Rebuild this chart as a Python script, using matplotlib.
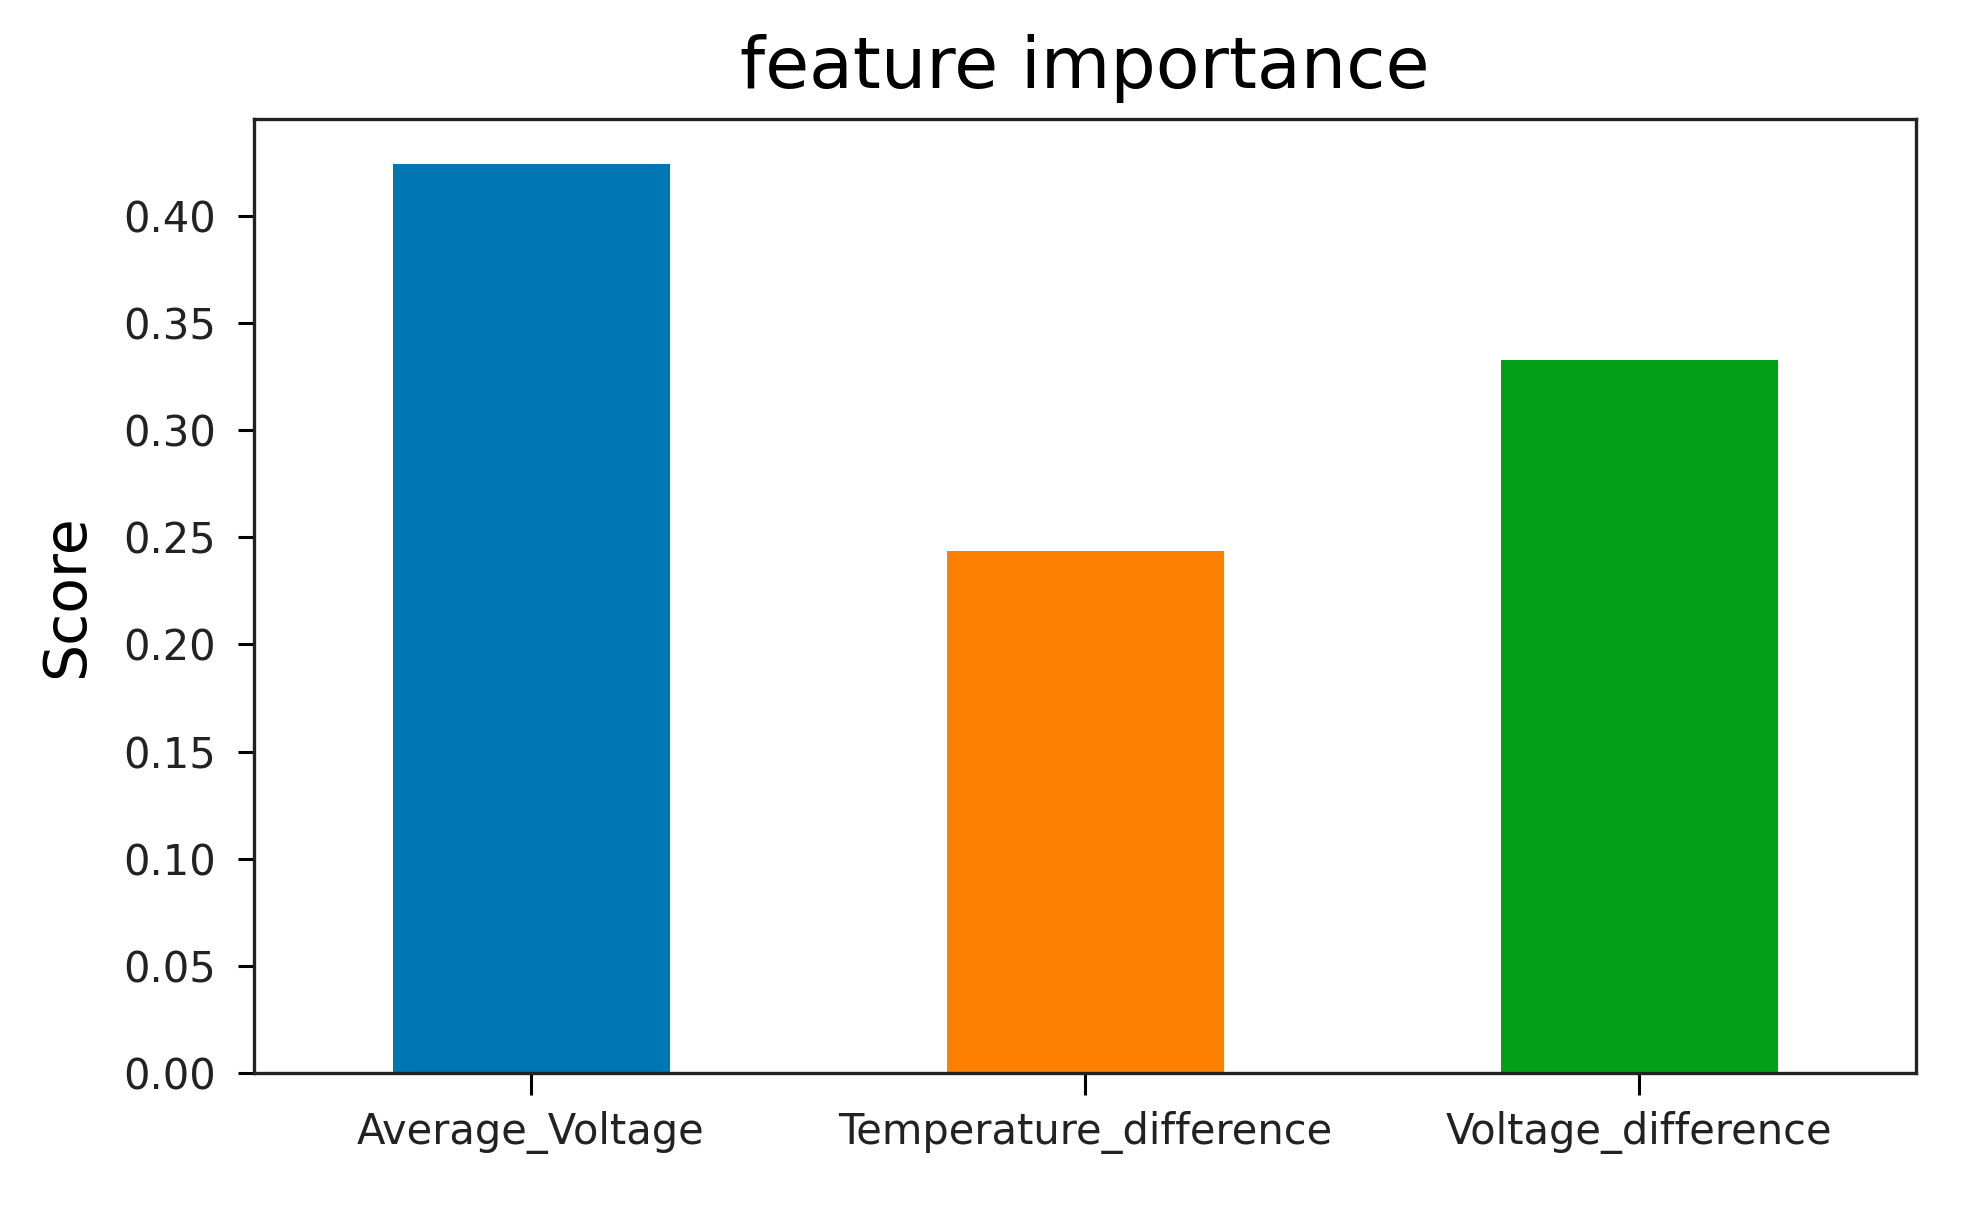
import matplotlib
matplotlib.use("Agg")
import matplotlib.pyplot as plt

features = ["Average_Voltage", "Temperature_difference", "Voltage_difference"]
scores = [0.424, 0.2435, 0.3325]
colors = ["#0176b4", "#ff8000", "#01a016"]
yticks = [0.00, 0.05, 0.10, 0.15, 0.20, 0.25, 0.30, 0.35, 0.40]

fig = plt.figure(figsize=(19.64, 12.11), dpi=100)
ax = fig.add_axes([254/1964, 1 - 1073/1211, (1916-254)/1964, (1073-119)/1211])

x = list(range(len(features)))
ax.bar(x, scores, width=0.5, color=colors)
ax.set_xlim(-0.5, len(features) - 0.5)
ax.set_ylim(0, max(scores) * 1.05)
ax.set_xticks(x)
ax.set_xticklabels(features, fontsize=30, color="#222222")
ax.set_yticks(yticks)
ax.set_yticklabels([f"{v:.2f}" for v in yticks], fontsize=30, color="#222222")
ax.tick_params(axis="y", length=11.5, width=2.2, pad=16)
ax.tick_params(axis="x", length=15.5, width=2.2, pad=12)
for s in ax.spines.values():
    s.set_linewidth(2.4)
    s.set_color("#222222")
ax.set_ylabel("Score", fontsize=42, labelpad=20)
ax.set_title("feature importance", fontsize=51.5, pad=22)

fig.savefig("out.png", dpi=100)
